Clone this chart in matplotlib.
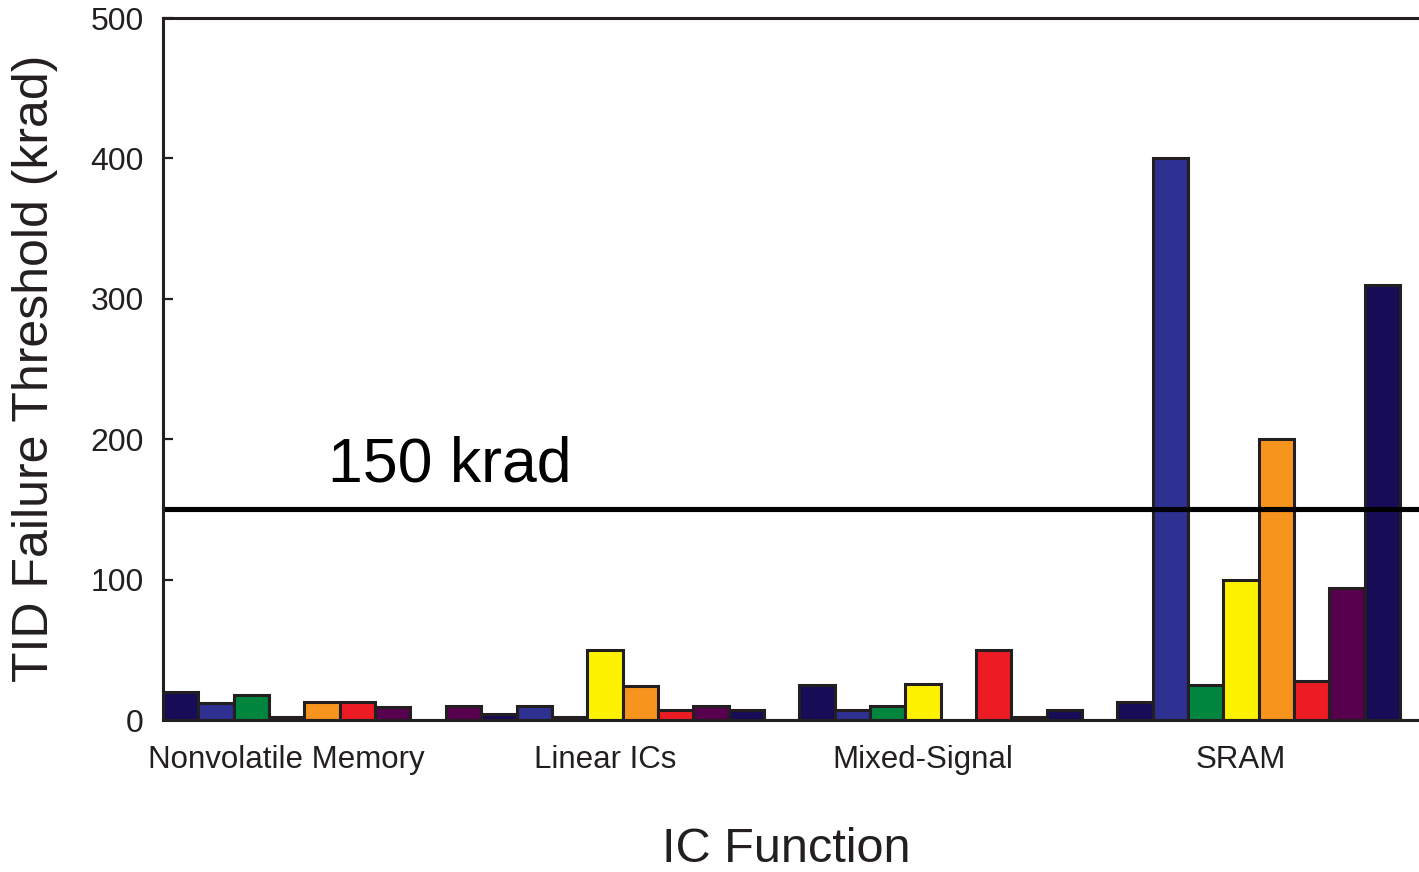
import numpy as np
import matplotlib
matplotlib.use('Agg')
import matplotlib.pyplot as plt

plt.rcParams['font.family'] = ['Liberation Sans', 'DejaVu Sans']

# groups along the x axis
categories = ['Nonvolatile Memory', 'Linear ICs', 'Mixed-Signal', 'SRAM']

# one list per bar colour, one value per group (krad)
navy1 = [20, 4, 25, 13]
blue = [12, 10, 7, 400]
green = [18, 2, 10, 25]
yellow = [2, 50, 26, 100]
orange = [13, 24, 0, 200]
red = [13, 7, 50, 28]
purple1 = [9, 10, 2, 94]
navy2 = [0, 7, 7, 310]
purple2 = [10, 0, 0, 0]

series = [navy1, blue, green, yellow, orange, red, purple1, navy2, purple2]
seriesColors = ['#160c57', '#2e3192', '#00853f', '#fff200', '#f7941d',
                '#ed1c24', '#56004e', '#160c57', '#56004e']

threshold = 150
thresholdLabel = '150 krad'

ink = '#231f20'
slots = len(series)

fig = plt.figure(figsize=(14.19, 8.72), dpi=100)
ax = fig.add_axes([0.1149, 0.1743, 0.893, 0.805])

groupPos = np.arange(len(categories)) * slots
for i, (vals, col) in enumerate(zip(series, seriesColors)):
    ax.bar(groupPos + i, vals, width=1.0, color=col, edgecolor=ink,
           linewidth=2.2, zorder=2)

ax.axhline(threshold, color='black', linewidth=3.7, zorder=3)
ax.text(4.17, 170, thresholdLabel, fontsize=45, color='black',
        ha='left', va='baseline', zorder=4)

ax.set_xlim(-0.5, 35.35)
ax.set_ylim(0, 500)
ax.set_yticks([0, 100, 200, 300, 400, 500])
ax.set_xticks(groupPos + 3)
ax.set_xticklabels(categories)

ax.tick_params(axis='y', direction='in', length=7, width=1.6, color=ink,
               labelsize=23, labelcolor=ink, pad=14, right=True)
ax.tick_params(axis='x', length=0, labelsize=22.5, labelcolor=ink, pad=18)

for side in ['left', 'bottom', 'top', 'right']:
    ax.spines[side].set_linewidth(2.2)
    ax.spines[side].set_color(ink)
    ax.spines[side].set_zorder(5)

fig.text(35 / 1419, 0.578, 'TID Failure Threshold (krad)', rotation=90,
         fontsize=36, color=ink, ha='center', va='center')
fig.text(786 / 1419, 0.012, 'IC Function', fontsize=35, color=ink,
         ha='center', va='baseline')

fig.savefig('out.png', dpi=100)
